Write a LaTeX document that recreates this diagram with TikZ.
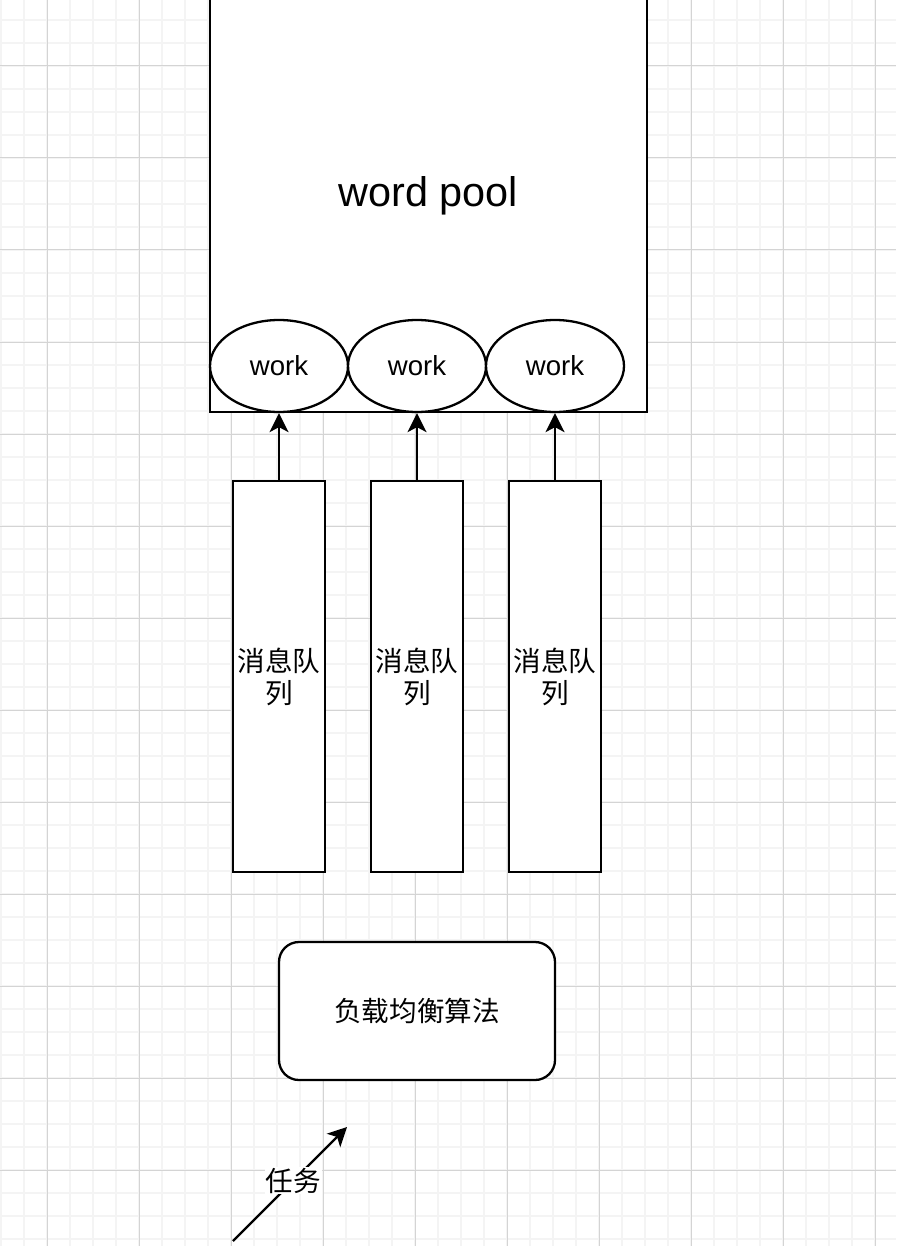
\documentclass[tikz,border=0pt]{standalone}
\usepackage{fontspec}
\setmainfont{Liberation Sans}
\newfontfamily\cjk{Noto Sans CJK SC}
\usetikzlibrary{arrows.meta,shapes.geometric}
\definecolor{gridminor}{HTML}{F4F4F4}
\definecolor{gridmajor}{HTML}{D4D4D4}
\tikzset{
  box/.style={draw=black, line width=2.3pt, fill=white, inner sep=0pt},
  workell/.style={box, ellipse, minimum width=138pt, minimum height=92pt,
    font=\fontsize{27.6}{32}\selectfont},
  queue/.style={box, rectangle, minimum width=92pt, minimum height=391pt,
    align=center, font=\cjk\fontsize{27.6}{32}\selectfont},
  lb/.style={box, rectangle, rounded corners=20pt, minimum width=276pt, minimum height=138pt,
    font=\cjk\fontsize{27.6}{32}\selectfont},
  conn/.style={draw=black, line width=2.3pt, -{Stealth[length=19pt,width=19pt,inset=5pt]}},
}
\begin{document}
\begin{tikzpicture}[x=1pt,y=-1pt]
\useasboundingbox (0,0) rectangle (896,1246);
\clip (0,0) rectangle (896,1246);
\fill[white] (0,0) rectangle (896,1246);
% grid
\foreach \i in {0,...,39} {
  \draw[gridminor, line width=1.5pt] ({1+23*\i},0) -- ({1+23*\i},1246);
}
\foreach \i in {0,...,54} {
  \draw[gridminor, line width=1.5pt] (0,{20+23*\i}) -- (896,{20+23*\i});
}
\foreach \i in {0,...,9} {
  \draw[gridmajor, line width=1pt] ({47+92*\i},0) -- ({47+92*\i},1246);
}
\foreach \i in {0,...,13} {
  \draw[gridmajor, line width=1pt] (0,{66+92*\i}) -- (896,{66+92*\i});
}
% word pool
\node[box, rectangle, minimum width=437pt, minimum height=432pt,
  font=\fontsize{41.4}{48}\selectfont] (pool) at (428.5,196) {word pool};
% workers
\node[workell] (w1) at (279,366) {work};
\node[workell] (w2) at (417,366) {work};
\node[workell] (w3) at (555,366) {work};
% queues
\node[queue] (q1) at (279,676.5) {消息队\\列};
\node[queue] (q2) at (417,676.5) {消息队\\列};
\node[queue] (q3) at (555,676.5) {消息队\\列};
% load balancer
\node[lb] (lb) at (417,1011) {负载均衡算法};
% arrows
\draw[conn] (q1.north) -- (w1.south);
\draw[conn] (q2.north) -- (w2.south);
\draw[conn] (q3.north) -- (w3.south);
\coordinate (ts) at (233,1241);
\coordinate (te) at (347,1127);
\draw[conn] (ts) -- node[pos=0.53, fill=white, inner sep=1pt, font=\cjk\fontsize{27.6}{32}\selectfont] (task) {任务} (te);
\end{tikzpicture}
\end{document}
